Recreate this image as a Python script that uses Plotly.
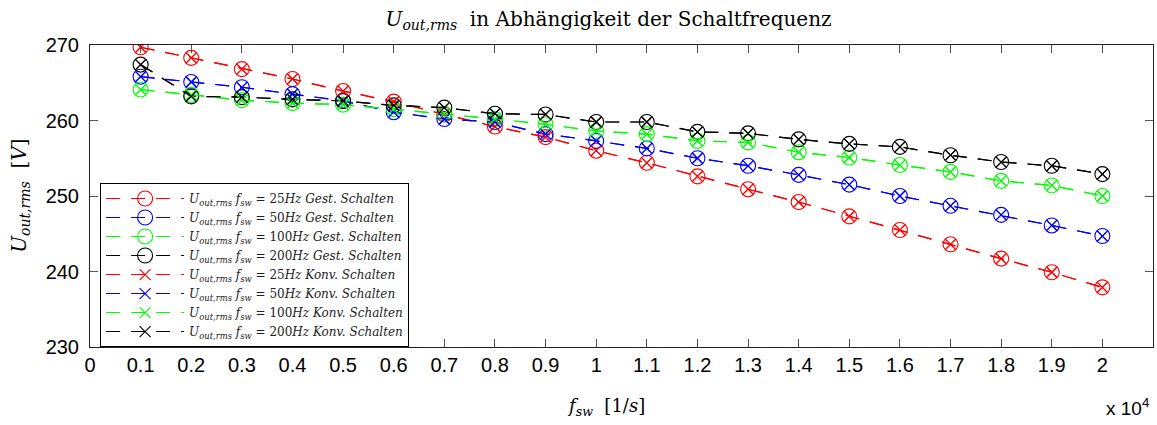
import plotly.graph_objects as go

f_sw = [1000, 2000, 3000, 4000, 5000, 6000, 7000, 8000, 9000, 10000,
        11000, 12000, 13000, 14000, 15000, 16000, 17000, 18000, 19000, 20000]

u_25 = [269.7, 268.3, 266.8, 265.5, 263.9, 262.5, 260.8, 259.2, 257.8, 256.0,
        254.4, 252.6, 250.9, 249.2, 247.3, 245.5, 243.6, 241.7, 239.9, 237.9]
u_50 = [265.8, 265.1, 264.4, 263.5, 262.6, 261.1, 260.2, 259.8, 258.2, 257.3,
        256.3, 255.0, 254.0, 252.8, 251.5, 250.0, 248.7, 247.5, 246.1, 244.7]
u_100 = [264.1, 263.4, 262.7, 262.3, 262.1, 261.5, 260.9, 260.2, 259.5, 258.6,
         258.2, 257.3, 257.1, 255.8, 255.1, 254.1, 253.2, 252.0, 251.4, 250.0]
u_200 = [267.4, 263.2, 263.1, 262.8, 262.6, 262.0, 261.7, 260.9, 260.8, 259.8,
         259.8, 258.5, 258.3, 257.5, 256.9, 256.5, 255.4, 254.5, 254.0, 252.9]

series = [
    ("25", u_25, "#FF0000"),
    ("50", u_50, "#0000FF"),
    ("100", u_100, "#00FF00"),
    ("200", u_200, "#000000"),
]

x_ticks = [0, 1000, 2000, 3000, 4000, 5000, 6000, 7000, 8000, 9000, 10000,
           11000, 12000, 13000, 14000, 15000, 16000, 17000, 18000, 19000, 20000]
x_tick_labels = ["0", "0.1", "0.2", "0.3", "0.4", "0.5", "0.6", "0.7", "0.8", "0.9", "1",
                 "1.1", "1.2", "1.3", "1.4", "1.5", "1.6", "1.7", "1.8", "1.9", "2"]
y_ticks = [230, 240, 250, 260, 270]

U = "<i>U</i><sub><i>out,rms</i></sub>"
F = "<i>f</i><sub><i>sw</i></sub>"

fig = go.Figure()
for kind, sym in [("Gest.", "circle-open"), ("Konv.", "x-thin-open")]:
    for freq, vals, col in series:
        fig.add_trace(go.Scatter(
            x=f_sw, y=vals, mode="lines+markers",
            name=f"{U} {F} = {freq}<i>Hz {kind} Schalten</i>",
            line=dict(color=col, width=1.2, dash="14px,11px"),
            marker=dict(symbol=sym, size=15 if sym == "circle-open" else 11,
                        color=col, line=dict(color=col, width=1.1)),
        ))
# x inside circles for the Gest. series (circle-x look)
for freq, vals, col in series:
    fig.add_trace(go.Scatter(
        x=f_sw, y=vals, mode="markers", showlegend=False, hoverinfo="skip",
        marker=dict(symbol="x-thin-open", size=10, color=col, line=dict(color=col, width=1.1)),
    ))

axis_common = dict(
    showgrid=False, zeroline=False, showline=True, linecolor="#222", linewidth=1,
    mirror="ticks", ticks="inside", ticklen=8, tickcolor="#555", tickwidth=1,
    automargin=False,
    tickfont=dict(family="Liberation Sans, Arial", size=20, color="black"),
)

fig.update_layout(
    width=1157, height=425,
    margin=dict(l=90, r=4, t=45, b=78),
    paper_bgcolor="white", plot_bgcolor="white",
    title=dict(text=f"{U}  in Abhängigkeit der Schaltfrequenz",
               x=0.526, xanchor="center", y=0.955, yanchor="middle",
               font=dict(family="DejaVu Serif", size=20, color="black")),
    xaxis=dict(range=[0, 21000], tickvals=x_ticks, ticktext=x_tick_labels, **axis_common),
    yaxis=dict(range=[230, 270], tickvals=y_ticks, ticklabelstandoff=6, **axis_common),
    showlegend=True,
    legend=dict(x=0.0095, y=0.543, xanchor="left", yanchor="top",
                bgcolor="white", bordercolor="black", borderwidth=1,
                font=dict(family="DejaVu Serif", size=12, color="#222"),
                tracegroupgap=0, itemwidth=78),
    annotations=[
        dict(text=f"{F}  [1/<i>s</i>]", x=0.485, xref="paper", y=-0.2, yref="paper",
             xanchor="center", yanchor="middle", showarrow=False,
             font=dict(family="DejaVu Serif", size=18, color="black")),
        dict(text="x 10<sup>4</sup>", x=0.998, xref="paper", y=-0.2, yref="paper",
             xanchor="right", yanchor="middle", showarrow=False,
             font=dict(family="Liberation Sans, Arial", size=19, color="black")),
        dict(text=f"{U}  [<i>V</i>]", x=-0.066, xref="paper", y=0.5, yref="paper",
             xanchor="center", yanchor="middle", showarrow=False, textangle=-90,
             font=dict(family="DejaVu Serif", size=20, color="black")),
    ],
)

fig.write_html("out.html", config={"displayModeBar": False},
               post_script="document.body.style.margin='0';document.body.style.overflow='hidden';")
